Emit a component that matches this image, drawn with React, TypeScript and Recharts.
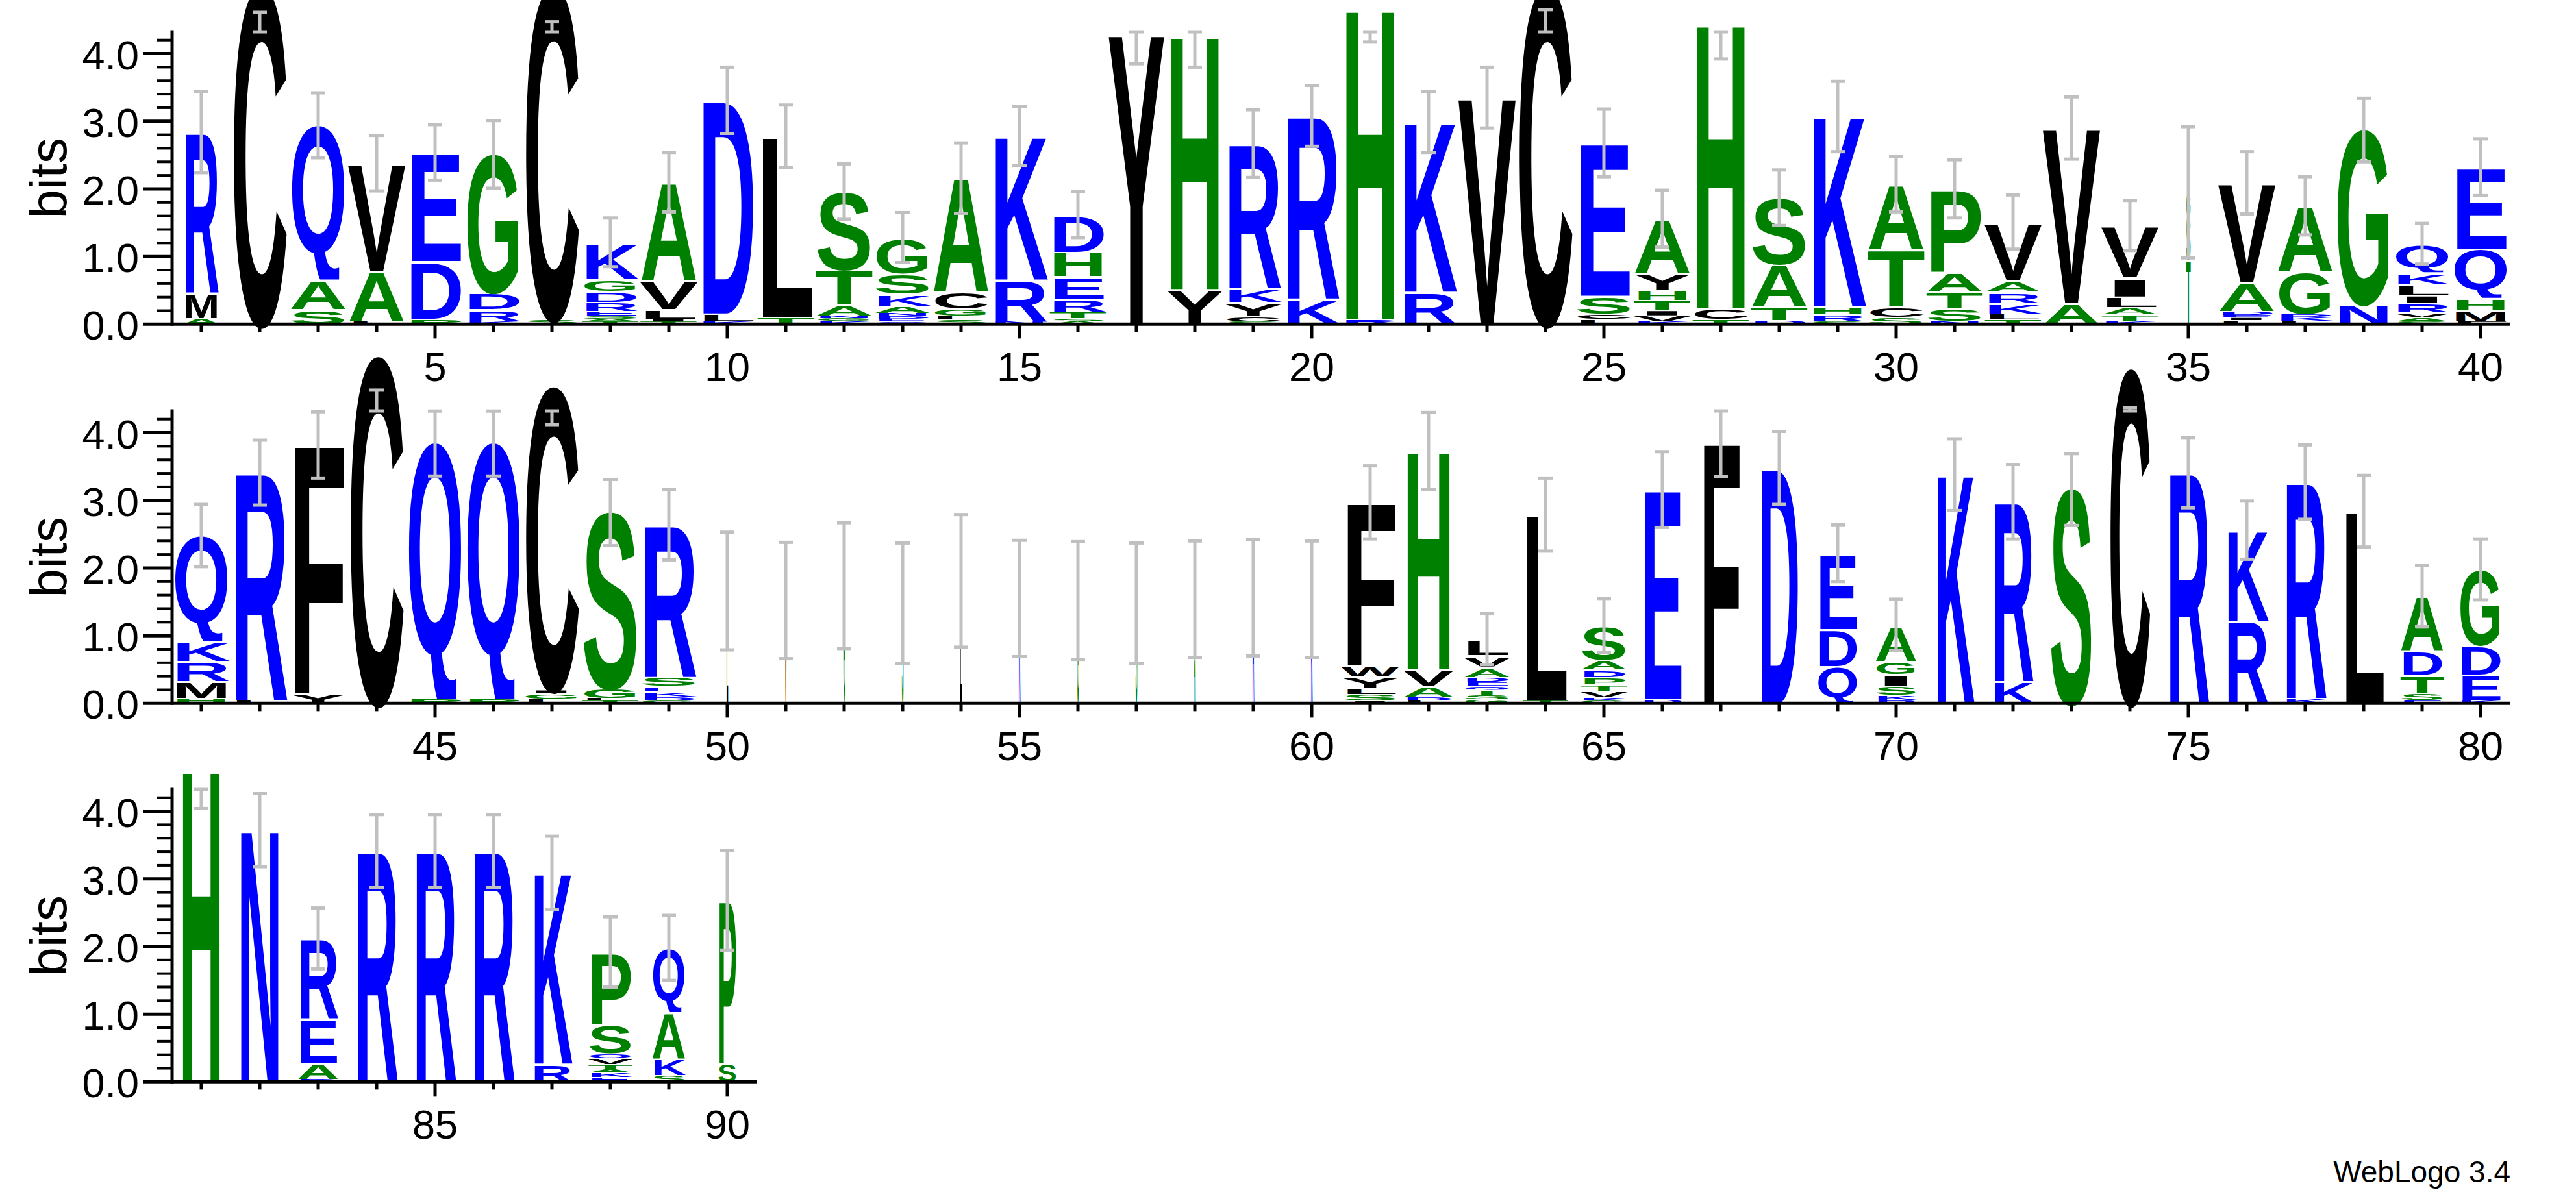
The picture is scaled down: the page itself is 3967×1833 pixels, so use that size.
import React from 'react';
import { ComposedChart, Bar, Line, ErrorBar, XAxis, YAxis, ReferenceLine } from 'recharts';

const FONT = "'Liberation Sans', Arial, Helvetica, sans-serif";
const MAX_BITS = Math.log2(20);
const Y_TOP = 5.8;
const PX_PER_BIT = 104.2;
const PLOT_H = Y_TOP * PX_PER_BIT;
const COL_W = 90;
const AXIS_W = 265;
const XAXIS_H = 110;
const BAR_W = 80;
const MAX_LAYERS = 9;
const CAP = 0.69;
const Q_TAIL = 0.15;

// hydrophobicity colour scheme
const letterColors: Record<string, string> = {};
'RKDENQ'.split('').forEach((c) => (letterColors[c] = '#0000ff'));
'SGHTAP'.split('').forEach((c) => (letterColors[c] = '#008000'));
'YVMCLFIW'.split('').forEach((c) => (letterColors[c] = '#000000'));

const yTicks = [0, 0.2, 0.4, 0.6, 0.8, 1, 1.2, 1.4, 1.6, 1.8, 2, 2.2, 2.4, 2.6, 2.8, 3, 3.2, 3.4, 3.6, 3.8, 4, 4.2];

// row 1: positions 1-40, letters listed bottom -> top, heights in bits
const row1Letters = [
  'AMR', 'C', 'SAQ', 'LAV', 'PDE', 'KRDG', 'SC', 'TASERDGK', 'TILVA', 'KLD',
  'TL', 'KGNATS', 'QEDNAKSG', 'SLGCA', 'NRK', 'ASTREHD', 'Y', 'YH', 'SCYKR', 'KR',
  'RH', 'RK', 'V', 'C', 'LCSE', 'KVITHYA', 'TCH', 'DTAS', 'SRHK', 'SCTA',
  'NSTAP', 'TLKRAV', 'AV', 'KTALIV', 'TSG', 'LIEDAV', 'LKDGA', 'NG', 'SAVRILKQ', 'FMHQE',
];
const row1Heights = [
  [0.09, 0.38, 2.37], [4.95], [0.22, 0.44, 2.28], [0.04, 0.74, 1.6], [0.08, 0.85, 1.61],
  [0.04, 0.18, 0.25, 2.04], [0.08, 4.87], [0.04, 0.04, 0.05, 0.07, 0.13, 0.16, 0.18, 0.54],
  [0.04, 0.04, 0.14, 0.43, 1.45], [0.04, 0.12, 3.15],
  [0.11, 2.67], [0.05, 0.04, 0.04, 0.16, 0.52, 1.15], [0.04, 0.04, 0.05, 0.04, 0.1, 0.18, 0.3, 0.53],
  [0.07, 0.06, 0.1, 0.25, 1.68], [0.04, 0.62, 2.12], [0.04, 0.05, 0.1, 0.19, 0.33, 0.36, 0.55],
  [4.29], [0.52, 3.74], [0.04, 0.08, 0.21, 0.21, 2.13], [0.38, 2.7],
  [0.07, 4.58], [0.48, 2.51], [3.35], [4.95], [0.08, 0.08, 0.26, 2.26],
  [0.04, 0.09, 0.08, 0.15, 0.15, 0.25, 0.8], [0.08, 0.16, 4.19], [0.06, 0.2, 0.63, 0.98],
  [0.04, 0.11, 0.12, 2.8], [0.11, 0.15, 0.85, 0.96],
  [0.05, 0.19, 0.24, 0.29, 1.23], [0.07, 0.09, 0.15, 0.17, 0.17, 0.86], [0.31, 2.59],
  [0.04, 0.11, 0.1, 0.16, 0.28, 0.77], [0.95, 0.66, 0.34], [0.06, 0.04, 0.04, 0.06, 0.43, 1.46],
  [0.05, 0.06, 0.05, 0.62, 0.97], [0.3, 2.57], [0.04, 0.06, 0.08, 0.14, 0.11, 0.16, 0.18, 0.42],
  [0.04, 0.17, 0.18, 0.73, 1.2],
];
const row1Errors = [
  0.6, 0.34, 0.48, 0.41, 0.41, 0.5, 0.48, 0.36, 0.44, 0.49,
  0.46, 0.41, 0.37, 0.52, 0.44, 0.34, 0.44, 0.46, 0.5, 0.45,
  0.48, 0.45, 0.45, 0.3, 0.5, 0.42, 0.51, 0.41, 0.52, 0.41,
  0.43, 0.4, 0.46, 0.37, 0.97, 0.46, 0.43, 0.47, 0.3, 0.42,
];
const row1Widths = [
  0.63, 1, 1, 1, 1, 1, 1, 1, 1, 1,
  1, 1, 1, 1, 1, 1, 1, 1, 1, 1,
  1, 1, 1, 1, 1, 1, 1, 1, 1, 1,
  1, 1, 1, 1, 0.08, 1, 1, 1, 1, 1,
];

// row 2: positions 41-80
const row2Letters = [
  'HMRKQ', 'LR', 'YF', 'C', 'PQ', 'PQ', 'LGIC', 'TLGS', 'GDKESR', 'L',
  'V', 'G', 'S', 'L', 'K', 'G', 'S', 'A', 'R', 'K',
  'ISLYWF', 'LDAVH', 'GSTQEDAVL', 'TL', 'GKVTPDAS', 'DE', 'F', 'D', 'QDE', 'RKSIGA',
  'K', 'KR', 'S', 'C', 'R', 'RK', 'KR', 'L', 'ESTDA', 'KEDG',
];
const row2Heights = [
  [0.08, 0.25, 0.3, 0.29, 1.56], [0.05, 3.36], [0.15, 3.67], [5.09], [0.07, 3.77],
  [0.07, 3.77], [0.07, 0.08, 0.05, 4.45], [0.04, 0.04, 0.15, 2.59], [0.04, 0.06, 0.08, 0.08, 0.13, 2.25], [1.66],
  [1.52], [1.74], [1.48], [1.81], [1.55], [1.52], [1.48], [1.54], [1.56], [1.54],
  [0.04, 0.1, 0.09, 0.17, 0.17, 2.4], [0.04, 0.06, 0.16, 0.25, 3.22],
  [0.06, 0.07, 0.07, 0.06, 0.06, 0.07, 0.14, 0.18, 0.24], [0.04, 2.75],
  [0.04, 0.05, 0.09, 0.1, 0.11, 0.11, 0.15, 0.5], [0.06, 3.1], [3.85], [3.48], [0.55, 0.55, 1.12],
  [0.05, 0.08, 0.13, 0.18, 0.19, 0.53],
  [3.38], [0.33, 2.65], [3.16], [4.91], [3.41], [1.22, 1.34], [0.08, 3.19], [2.84],
  [0.05, 0.11, 0.26, 0.36, 0.81], [0.05, 0.38, 0.44, 1.11],
];
const row2Errors = [
  0.46, 0.48, 0.49, 0.46, 0.48, 0.48, 0.53, 0.49, 0.52, 0.87,
  0.86, 0.93, 0.89, 0.98, 0.86, 0.87, 0.89, 0.86, 0.86, 0.86,
  0.54, 0.57, 0.38, 0.54, 0.4, 0.56, 0.5, 0.54, 0.42, 0.38,
  0.53, 0.55, 0.53, 0.54, 0.52, 0.43, 0.55, 0.53, 0.45, 0.45,
];
const row2Widths = [
  1, 1, 1, 1, 1, 1, 1, 1, 1, 0.03,
  0.03, 0.03, 0.03, 0.03, 0.03, 0.03, 0.03, 0.03, 0.03, 0.03,
  0.98, 0.88, 0.82, 0.8, 0.82, 0.74, 0.73, 0.72, 0.74, 0.74,
  0.7, 0.74, 0.76, 0.75, 0.76, 0.77, 0.77, 0.76, 0.77, 0.77,
];

// row 3: positions 81-90
const row3Letters = ['H', 'N', 'DAER', 'R', 'R', 'R', 'RK', 'EKATVQSP', 'SKAQ', 'SP'];
const row3Heights = [
  [4.6], [3.72], [0.04, 0.24, 0.65, 1.19], [3.41], [3.41], [3.41], [0.27, 2.82],
  [0.07, 0.07, 0.06, 0.06, 0.09, 0.08, 0.42, 1.07], [0.1, 0.25, 0.68, 0.95], [0.28, 2.4],
];
const row3Errors = [0.56, 0.54, 0.45, 0.54, 0.54, 0.54, 0.54, 0.52, 0.48, 0.74];
const row3Widths = [0.77, 0.78, 0.73, 0.77, 0.77, 0.77, 0.72, 0.78, 0.6, 0.33];

const buildColumns = (start: number, letters: string[], heights: number[][], errors: number[], widths: number[]) =>
  letters.map((seq, i) => {
    const col: any = { pos: start + i, w: widths[i] };
    let top = 0;
    for (let k = 0; k < MAX_LAYERS; k++) {
      const h = heights[i][k] ?? 0;
      col[`h${k}`] = h;
      col[`l${k}`] = seq[k] ?? '';
      top += h;
    }
    col.top = top;
    col.errRange = [errors[i], Math.min(errors[i], MAX_BITS - top)];
    return col;
  });

const rows = [
  { zeroY: 499, data: buildColumns(1, row1Letters, row1Heights, row1Errors, row1Widths) },
  { zeroY: 1083, data: buildColumns(41, row2Letters, row2Heights, row2Errors, row2Widths) },
  { zeroY: 1666, data: buildColumns(81, row3Letters, row3Heights, row3Errors, row3Widths) },
];

const renderLetter = (p: any, k: number) => {
  const { x, width, payload } = p;
  const height = Math.abs(p.height);
  const y = p.height < 0 ? p.y + p.height : p.y;
  const ch: string = payload ? payload[`l${k}`] : '';
  if (!ch || !height || height < 0.4) return <g />;
  const w = width * payload.w;
  const cx = x + width / 2;
  const gap = Math.min(3.5, height * 0.2);
  const ink = height - gap;
  if (ch === 'Q') {
    // keep the tail inside the letter box
    const fs = ink / (CAP + Q_TAIL);
    const id = `qclip-${payload.pos}-${k}`;
    return (
      <g>
        <defs>
          <clipPath id={id}>
            <rect x={cx - w / 2 - 4} y={y} width={w + 8} height={height} />
          </clipPath>
        </defs>
        <text
          x={cx - w * 0.56}
          y={y + height - Q_TAIL * fs}
          fontSize={fs}
          textLength={w * 1.12}
          lengthAdjust="spacingAndGlyphs"
          fill={letterColors[ch]}
          fontFamily={FONT}
          fontWeight={700}
          clipPath={`url(#${id})`}
        >
          Q
        </text>
      </g>
    );
  }
  return (
    <text
      x={cx - w * 0.56}
      y={y + height}
      fontSize={ink / CAP}
      textLength={w * 1.12}
      lengthAdjust="spacingAndGlyphs"
      fill={letterColors[ch]}
      fontFamily={FONT}
      fontWeight={700}
    >
      {ch}
    </text>
  );
};

const XTick = (props: any) => {
  const { x, y, payload } = props;
  const major = payload.value % 5 === 0;
  return (
    <g>
      <line x1={x} x2={x} y1={y} y2={y + (major ? 22 : 12)} stroke="#000" strokeWidth={5} />
      {major && (
        <text x={x} y={y + 88} textAnchor="middle" fontSize={63} fontFamily={FONT} fill="#000">
          {payload.value}
        </text>
      )}
    </g>
  );
};

const YTick = (props: any) => {
  const { x, y, payload } = props;
  const v = payload.value;
  const major = Math.abs(v - Math.round(v)) < 1e-6;
  return (
    <g>
      <line x1={x - (major ? 45 : 23)} x2={x} y1={y} y2={y} stroke="#000" strokeWidth={major ? 5 : 4} />
      {major && (
        <text x={x - 51} y={y + 24} textAnchor="end" fontSize={63} fontFamily={FONT} fill="#000">
          {v.toFixed(1)}
        </text>
      )}
    </g>
  );
};

const BitsLabel = (p: any) => {
  const vb = p.viewBox || { x: 0, y: 0, height: PLOT_H };
  const cy = vb.y + vb.height - (MAX_BITS / 2 / Y_TOP) * vb.height;
  return (
    <text transform={`translate(${vb.x + 102}, ${cy}) rotate(-90)`} textAnchor="middle" fontSize={80} fontFamily={FONT} fill="#000">
      bits
    </text>
  );
};

const layers = Array.from({ length: MAX_LAYERS }, (_, k) => k);

function LogoRow({ zeroY, data }: { zeroY: number; data: any[] }) {
  const first = data[0].pos;
  const last = data[data.length - 1].pos;
  const positions = data.map((d) => d.pos);
  const width = AXIS_W + data.length * COL_W + 20;
  return (
    <div style={{ position: 'absolute', left: 0, top: zeroY - PLOT_H }}>
      <ComposedChart width={width} height={PLOT_H + XAXIS_H} data={data} margin={{ top: 0, right: 20, bottom: 0, left: 0 }}>
        <XAxis
          type="number"
          dataKey="pos"
          domain={[first - 0.5, last + 0.5]}
          ticks={positions}
          interval={0}
          tick={XTick}
          tickLine={false}
          tickSize={0}
          tickMargin={0}
          axisLine={{ stroke: '#000', strokeWidth: 5 }}
          height={XAXIS_H}
        />
        <YAxis
          type="number"
          domain={[0, Y_TOP]}
          ticks={yTicks}
          interval={0}
          tick={YTick}
          tickLine={false}
          tickSize={0}
          tickMargin={0}
          axisLine={false}
          width={AXIS_W}
          label={{ content: BitsLabel }}
        />
        <ReferenceLine
          segment={[{ x: first - 0.5, y: 0 }, { x: first - 0.5, y: MAX_BITS }]}
          stroke="#000"
          strokeWidth={5}
          strokeLinecap="square"
        />
        {layers.map((k) => (
          <Bar
            key={k}
            dataKey={`h${k}`}
            stackId="logo"
            barSize={BAR_W}
            isAnimationActive={false}
            shape={(p: any) => renderLetter(p, k)}
          />
        ))}
        <Line dataKey="top" stroke="none" dot={false} activeDot={false} isAnimationActive={false}>
          <ErrorBar dataKey="errRange" direction="y" width={11} strokeWidth={5} stroke="#c0c0c0" />
        </Line>
      </ComposedChart>
    </div>
  );
}

export default function App() {
  return (
    <div style={{ position: 'absolute', left: 0, top: 0, width: 3967, height: 1833, overflow: 'hidden', background: '#fff' }}>
      {rows.map((r, i) => (
        <LogoRow key={i} zeroY={r.zeroY} data={r.data} />
      ))}
      <svg width={3967} height={1833} style={{ position: 'absolute', left: 0, top: 0, pointerEvents: 'none' }}>
        <text x={3866} y={1821} textAnchor="end" fontSize={46} fontFamily={FONT} fill="#000">
          WebLogo 3.4
        </text>
      </svg>
    </div>
  );
}
